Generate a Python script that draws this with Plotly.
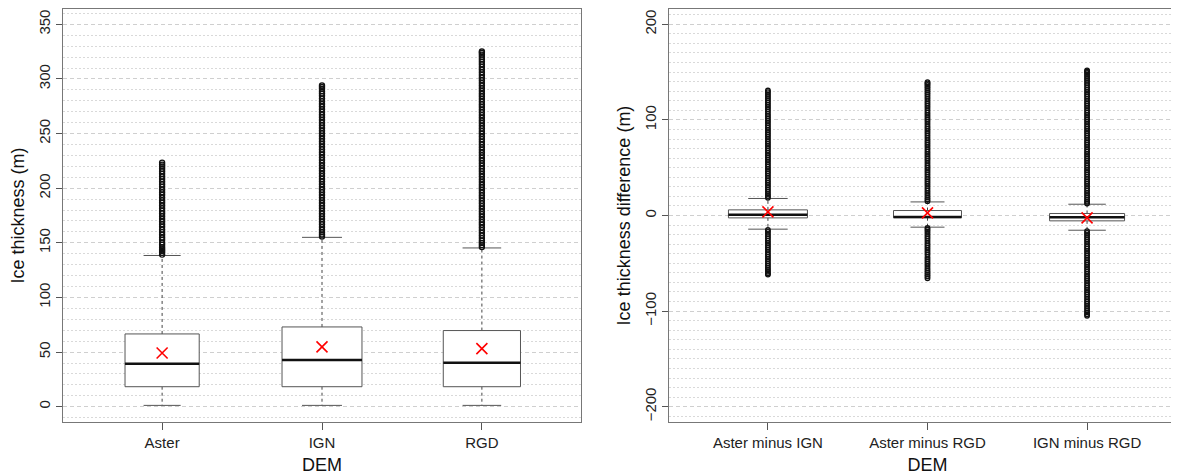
import plotly.graph_objects as go

# ---------------- data ----------------
left_cats = ["Aster", "IGN", "RGD"]
left_q1 = [18.3, 18.3, 18.3]
left_median = [39.4, 42.8, 40.3]
left_q3 = [66.6, 73.0, 69.7]
left_mean = [49.2, 54.7, 53.2]
left_low = [1.2, 1.2, 1.2]
left_high = [138.4, 155.0, 145.3]
left_out = [
    [139.2, 140.8, 142.5, 144.1, 146.0, 148.3, 150.2, 152.7, 154.9, 157.4, 159.8,
     162.1, 164.6, 167.0, 169.5, 171.8, 174.3, 176.9, 179.2, 181.6, 184.1, 186.7,
     189.0, 191.4, 193.9, 196.3, 198.8, 201.2, 203.5, 206.0, 208.4, 210.7, 213.1,
     215.6, 217.8, 219.9, 221.6, 223.4],
    [155.8, 157.6, 159.7, 162.0, 164.4, 166.9, 169.3, 171.8, 174.2, 176.7, 179.1,
     181.6, 184.0, 186.5, 188.9, 191.4, 193.8, 196.3, 198.7, 201.2, 203.6, 206.1,
     208.5, 211.0, 213.4, 215.9, 218.3, 220.8, 223.2, 225.7, 228.1, 230.6, 233.0,
     235.5, 237.9, 240.4, 242.8, 245.3, 247.7, 250.2, 252.6, 255.1, 257.5, 260.0,
     262.4, 264.9, 267.3, 269.8, 272.2, 274.7, 277.1, 279.6, 282.0, 284.5, 286.6,
     288.7, 290.9, 292.6, 294.1],
    [146.1, 147.9, 149.8, 152.0, 154.3, 156.7, 159.1, 161.6, 164.0, 166.5, 168.9,
     171.4, 173.8, 176.3, 178.7, 181.2, 183.6, 186.1, 188.5, 191.0, 193.4, 195.9,
     198.3, 200.8, 203.2, 205.7, 208.1, 210.6, 213.0, 215.5, 217.9, 220.4, 222.8,
     225.3, 227.7, 230.2, 232.6, 235.1, 237.5, 240.0, 242.4, 244.9, 247.3, 249.8,
     252.2, 254.7, 257.1, 259.6, 262.0, 264.5, 266.9, 269.4, 271.8, 274.3, 276.7,
     279.2, 281.6, 284.1, 286.5, 289.0, 291.4, 293.9, 296.3, 298.8, 301.2, 303.7,
     306.1, 308.6, 311.0, 313.4, 315.7, 317.9, 320.1, 322.2, 324.0, 325.2],
]

right_cats = ["Aster minus IGN", "Aster minus RGD", "IGN minus RGD"]
right_q1 = [-2.5, -2.3, -5.6]
right_median = [0.7, -1.6, -1.8]
right_q3 = [5.9, 5.2, 2.1]
right_mean = [3.8, 2.7, -2.5]
right_low = [-14.3, -12.2, -15.4]
right_high = [17.8, 14.2, 11.8]
right_out = [
    [18.6, 20.4, 22.5, 24.8, 27.1, 29.5, 31.9, 34.3, 36.7, 39.1, 41.5, 43.9, 46.3,
     48.7, 51.1, 53.5, 55.9, 58.3, 60.7, 63.1, 65.5, 67.9, 70.3, 72.7, 75.1, 77.5,
     79.9, 82.3, 84.7, 87.1, 89.5, 91.9, 94.3, 96.7, 99.1, 101.5, 103.9, 106.3,
     108.7, 111.1, 113.5, 115.9, 118.3, 120.6, 122.8, 124.9, 127.0, 129.1, 130.8,
     -15.2, -17.1, -19.3, -21.6, -23.9, -26.3, -28.7, -31.1, -33.5, -35.9, -38.3,
     -40.7, -43.1, -45.5, -47.9, -50.3, -52.6, -54.8, -56.9, -58.9, -60.6, -61.8],
    [15.0, 16.8, 18.9, 21.2, 23.6, 26.0, 28.4, 30.8, 33.2, 35.6, 38.0, 40.4, 42.8,
     45.2, 47.6, 50.0, 52.4, 54.8, 57.2, 59.6, 62.0, 64.4, 66.8, 69.2, 71.6, 74.0,
     76.4, 78.8, 81.2, 83.6, 86.0, 88.4, 90.8, 93.2, 95.6, 98.0, 100.4, 102.8,
     105.2, 107.6, 110.0, 112.4, 114.8, 117.2, 119.6, 122.0, 124.3, 126.5, 128.7,
     130.8, 132.9, 134.8, 136.6, 138.2, 139.5,
     -13.0, -14.9, -17.0, -19.3, -21.7, -24.1, -26.5, -28.9, -31.3, -33.7, -36.1,
     -38.5, -40.9, -43.3, -45.7, -48.1, -50.5, -52.9, -55.3, -57.6, -59.7, -61.6,
     -63.6, -65.7],
    [12.6, 14.4, 16.5, 18.8, 21.2, 23.6, 26.0, 28.4, 30.8, 33.2, 35.6, 38.0, 40.4,
     42.8, 45.2, 47.6, 50.0, 52.4, 54.8, 57.2, 59.6, 62.0, 64.4, 66.8, 69.2, 71.6,
     74.0, 76.4, 78.8, 81.2, 83.6, 86.0, 88.4, 90.8, 93.2, 95.6, 98.0, 100.4,
     102.8, 105.2, 107.6, 110.0, 112.4, 114.8, 117.2, 119.6, 122.0, 124.4, 126.8,
     129.2, 131.6, 134.0, 136.4, 138.7, 140.9, 143.0, 145.1, 147.1, 149.0, 150.6,
     151.8,
     -16.3, -18.2, -20.4, -22.7, -25.1, -27.5, -29.9, -32.3, -34.7, -37.1, -39.5,
     -41.9, -44.3, -46.7, -49.1, -51.5, -53.9, -56.3, -58.7, -61.1, -63.5, -65.9,
     -68.3, -70.7, -73.1, -75.5, -77.9, -80.3, -82.7, -85.1, -87.5, -89.9, -92.3,
     -94.7, -97.0, -99.2, -101.3, -103.2, -104.8],
]

# ---------------- styles ----------------
left_widths = [0.464, 0.50, 0.483]
right_widths = [0.495, 0.426, 0.47]
FONT = "Liberation Sans, Arial, sans-serif"
BOXC = "#555555"
W, H = 1179, 474
OFF = 8  # page body margin in the browser

fig = go.Figure()


def add_panel(cats, q1, med, q3, mean, low, high, outs, widths, xa, ya, msize):
    for i in range(len(cats)):
        x = i + 1
        w = widths[i]
        # whiskers (dashed)
        fig.add_trace(go.Scatter(
            x=[x, x, None, x, x], y=[q3[i], high[i], None, q1[i], low[i]],
            mode="lines", line=dict(color="#444444", width=1, dash="3px,3px"),
            xaxis=xa, yaxis=ya, hoverinfo="skip", showlegend=False))
        # caps
        fig.add_trace(go.Scatter(
            x=[x - w / 4, x + w / 4, None, x - w / 4, x + w / 4],
            y=[high[i], high[i], None, low[i], low[i]],
            mode="lines", line=dict(color=BOXC, width=1),
            xaxis=xa, yaxis=ya, hoverinfo="skip", showlegend=False))
        # outliers
        fig.add_trace(go.Scatter(
            x=[x] * len(outs[i]), y=outs[i], mode="markers",
            marker=dict(symbol="circle-open", size=msize, color="#111111",
                        line=dict(width=1.4, color="#111111")),
            xaxis=xa, yaxis=ya, hoverinfo="skip", showlegend=False))
        # box
        fig.add_trace(go.Scatter(
            x=[x - w / 2, x + w / 2, x + w / 2, x - w / 2, x - w / 2],
            y=[q1[i], q1[i], q3[i], q3[i], q1[i]],
            mode="lines", fill="toself", fillcolor="white",
            line=dict(color=BOXC, width=1),
            xaxis=xa, yaxis=ya, hoverinfo="skip", showlegend=False))
        # median
        fig.add_trace(go.Scatter(
            x=[x - w / 2, x + w / 2], y=[med[i], med[i]], mode="lines",
            line=dict(color="#111111", width=2.5),
            xaxis=xa, yaxis=ya, hoverinfo="skip", showlegend=False))
        # mean
        fig.add_trace(go.Scatter(
            x=[x], y=[mean[i]], mode="markers",
            marker=dict(symbol="x-thin", size=11, color="red",
                        line=dict(width=1.6, color="red")),
            xaxis=xa, yaxis=ya, hoverinfo="skip", showlegend=False))


add_panel(left_cats, left_q1, left_median, left_q3, left_mean, left_low, left_high,
          left_out, left_widths, "x", "y", 5)
add_panel(right_cats, right_q1, right_median, right_q3, right_mean, right_low,
          right_high, right_out, right_widths, "x2", "y2", 4.5)

tickfont = dict(family=FONT, size=15, color="#222222")
titlefont = dict(family=FONT, size=18, color="#111111")

common_x = dict(tickvals=[1, 2, 3], ticks="outside", ticklen=7, tickcolor="#555555",
                showline=True, linecolor="#777777", linewidth=1, showgrid=False,
                zeroline=False, tickfont=tickfont, mirror=True,
                title=dict(text="DEM", font=titlefont, standoff=8))
minor = dict(showgrid=True, gridcolor="#d9d9d9", griddash="2px,2px",
             gridwidth=1, ticks="", dtick=10, tick0=0)
common_y = dict(ticks="outside", ticklen=6, tickcolor="#555555", tickangle=-90,
                showline=True, linecolor="#777777", linewidth=1, zeroline=False,
                showgrid=True, gridcolor="#cfcfcf", griddash="4px,3px", gridwidth=1,
                tickfont=tickfont, mirror=True, tick0=0, minor=minor)


def xdom(a, b):
    return [(a - OFF) / W, min(1.0, (b - OFF) / W)]


ydom = [1 - (422 - OFF) / H, 1 - (9 - OFF) / H]

fig.update_layout(
    width=W, height=H, margin=dict(l=0, r=0, t=0, b=0),
    paper_bgcolor="white", plot_bgcolor="white", showlegend=False,
    xaxis=dict(domain=xdom(63, 581), range=[0.38, 3.62],
               ticktext=left_cats, anchor="y", **common_x),
    yaxis=dict(domain=ydom, range=[-14, 364], dtick=50, anchor="x",
               title=dict(text="Ice thickness (m)", font=titlefont, standoff=6),
               **common_y),
    xaxis2=dict(domain=xdom(669, 1186), range=[0.38, 3.62],
                ticktext=right_cats, anchor="y2", **common_x),
    yaxis2=dict(domain=ydom, range=[-216, 216], dtick=100, anchor="x2",
                title=dict(text="Ice thickness difference (m)", font=titlefont, standoff=6),
                **common_y),
)

fig.write_html("out.html")
